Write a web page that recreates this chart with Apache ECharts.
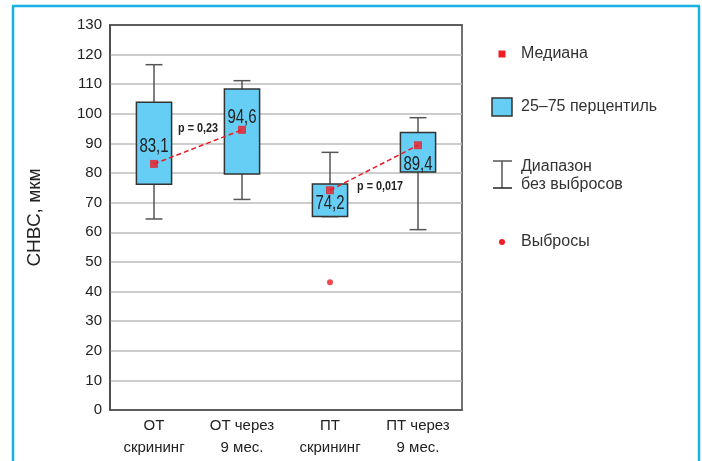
<!DOCTYPE html>
<html>
<head>
<meta charset="utf-8">
<script src="https://cdn.jsdelivr.net/npm/echarts@6/dist/echarts.min.js"></script>
<style>
  html, body { margin: 0; padding: 0; background: #fff; }
  #chart { width: 702px; height: 461px; }
</style>
</head>
<body>
<div id="chart"></div>
<script>
// Groups on the category axis
const categories = ['ОТ\nскрининг', 'ОТ через\n9 мес.', 'ПТ\nскрининг', 'ПТ через\n9 мес.'];
// Box-plot statistics (СНВС, мкм)
const whiskerLow  = [64.5, 71.1, 65.3, 60.9];
const quartile1   = [76.2, 79.7, 65.3, 80.4];
const medians     = [83.1, 94.6, 74.2, 89.4];
const quartile3   = [103.9, 108.4, 76.3, 93.7];
const whiskerHigh = [116.6, 111.2, 87.0, 98.7];
// Outliers as [category index, value]
const outliers = [[2, 43.1]];
// Paired comparisons: [from index, to index] and their p-values
const pairs   = [[0, 1], [2, 3]];
const pLabels = ['p = 0,23', 'p = 0,017'];
// Value axis ticks
const yMin = 0, yMax = 130, yStep = 10;

// vertical pixel offset of each median's value label from its marker
const MEDIAN_LABEL_DY = [-17, -12, 13, 19];

const FONT = "'Liberation Sans', Arial, sans-serif";
const BOX_FILL = '#66cdf4';
const RED = '#ee1c25';
const DARK = '#333333';

const chart = echarts.init(document.getElementById('chart'), null, { renderer: 'canvas' });

const boxData = categories.map((c, i) => [i, whiskerLow[i], quartile1[i], quartile3[i], whiskerHigh[i]]);
const fmt = v => String(v).replace('.', ',');

function pairSeries(k) {
  const [a, b] = pairs[k];
  return categories.map((c, i) => (i === a || i === b) ? medians[i] : '-');
}

const option = {
  animation: false,
  backgroundColor: '#fff',
  grid: { left: 110, right: 240, top: 25, bottom: 51, show: true, borderColor: '#444', borderWidth: 1.5, backgroundColor: 'transparent' },
  xAxis: [{
    type: 'category',
    data: categories,
    boundaryGap: true,
    position: 'bottom',
    axisLine: { lineStyle: { color: '#444', width: 1.5 } },
    axisTick: { alignWithLabel: true, inside: true, length: 5, lineStyle: { color: '#444', width: 1.5 } },
    axisLabel: { interval: 0, fontFamily: FONT, fontSize: 15, color: '#222', lineHeight: 22, margin: 5 },
    splitLine: { show: false }
  }, {
    type: 'category',
    data: categories,
    boundaryGap: true,
    position: 'top',
    axisLine: { lineStyle: { color: '#444', width: 1.5 } },
    axisTick: { alignWithLabel: true, inside: true, length: 5, lineStyle: { color: '#444', width: 1.5 } },
    axisLabel: { show: false },
    splitLine: { show: false }
  }],
  yAxis: {
    type: 'value',
    min: yMin, max: yMax, interval: yStep,
    name: 'СНВС, мкм',
    nameLocation: 'middle',
    nameGap: 66,
    nameTextStyle: { fontFamily: FONT, fontSize: 19, color: '#222' },
    axisLine: { show: true, lineStyle: { color: '#444', width: 1.5 } },
    axisTick: { show: false },
    axisLabel: { fontFamily: FONT, fontSize: 15, color: '#222', margin: 8 },
    splitLine: { lineStyle: { color: '#bdbdbd', width: 1.5 } }
  },
  series: [
    {
      // boxes and whiskers
      type: 'custom',
      data: boxData,
      z: 2,
      renderItem: function (params, api) {
        const i = api.value(0);
        const x = api.coord([i, 0])[0];
        const band = api.size([1, 0])[0];
        const bw = band * 0.4;
        const cw = bw * 0.48;
        const yLow = api.coord([i, api.value(1)])[1];
        const yQ1 = api.coord([i, api.value(2)])[1];
        const yQ3 = api.coord([i, api.value(3)])[1];
        const yHigh = api.coord([i, api.value(4)])[1];
        const wStyle = { stroke: '#555', lineWidth: 1.5 };
        return {
          type: 'group',
          children: [
            { type: 'line', shape: { x1: x, y1: yQ1, x2: x, y2: yLow }, style: wStyle },
            { type: 'line', shape: { x1: x, y1: yQ3, x2: x, y2: yHigh }, style: wStyle },
            { type: 'line', shape: { x1: x - cw / 2, y1: yLow, x2: x + cw / 2, y2: yLow }, style: wStyle },
            { type: 'line', shape: { x1: x - cw / 2, y1: yHigh, x2: x + cw / 2, y2: yHigh }, style: wStyle },
            { type: 'rect', shape: { x: x - bw / 2, y: yQ3, width: bw, height: yQ1 - yQ3 },
              style: { fill: BOX_FILL, stroke: DARK, lineWidth: 1.5 } }
          ]
        };
      }
    },
    {
      type: 'line', data: pairSeries(0), symbol: 'none', z: 3,
      lineStyle: { color: RED, width: 1.5, type: [5, 3] }
    },
    {
      type: 'line', data: pairSeries(1), symbol: 'none', z: 3,
      lineStyle: { color: RED, width: 1.5, type: [5, 3] }
    },
    {
      // p-value annotations beside each dashed connector
      type: 'custom',
      data: pairs.map((p, k) => [k]),
      z: 4,
      renderItem: function (params, api) {
        const k = api.value(0);
        const [a, b] = pairs[k];
        const pa = api.coord([a, medians[a]]);
        const pb = api.coord([b, medians[b]]);
        const mx = (pa[0] + pb[0]) / 2;
        const my = (pa[1] + pb[1]) / 2;
        const above = k === 0;
        return {
          type: 'text',
          x: mx + (above ? 0 : 6),
          y: my + (above ? -18 : 19),
          scaleX: 0.9,
          style: { text: pLabels[k], font: 'bold 12px ' + FONT, fill: '#222', align: 'center', verticalAlign: 'middle' }
        };
      }
    },
    {
      // median value labels in a condensed face
      type: 'custom',
      data: medians.map((v, i) => [i, v]),
      z: 6,
      renderItem: function (params, api) {
        const i = api.value(0);
        const v = api.value(1);
        const p = api.coord([i, v]);
        return {
          type: 'text',
          x: p[0],
          y: p[1] + MEDIAN_LABEL_DY[i],
          scaleX: 0.75,
          style: { text: fmt(v), font: '20px ' + FONT, fill: '#222', align: 'center', verticalAlign: 'middle' }
        };
      }
    },
    {
      type: 'scatter',
      symbol: 'rect', symbolSize: 8, z: 5,
      itemStyle: { color: RED },
      data: medians.map((v, i) => [i, v])
    },
    {
      type: 'scatter',
      symbol: 'circle', symbolSize: 6, z: 5,
      itemStyle: { color: RED },
      data: outliers
    }
  ],
  graphic: [
    // frame
    { type: 'line', shape: { x1: 13, y1: 6, x2: 13, y2: 461 }, style: { stroke: '#19b2e8', lineWidth: 2.5 } },
    { type: 'line', shape: { x1: 12, y1: 6, x2: 700, y2: 6 }, style: { stroke: '#19b2e8', lineWidth: 2.5 } },
    { type: 'line', shape: { x1: 699, y1: 6, x2: 699, y2: 461 }, style: { stroke: '#19b2e8', lineWidth: 2.5 } },
    // key
    { type: 'rect', shape: { x: 498.5, y: 50.5, width: 7, height: 7 }, style: { fill: RED } },
    { type: 'text', x: 521, y: 54, style: { text: 'Медиана', font: '16px ' + FONT, fill: '#333', verticalAlign: 'middle' } },
    { type: 'rect', shape: { x: 492, y: 98, width: 20, height: 18 }, style: { fill: BOX_FILL, stroke: DARK, lineWidth: 1.5 } },
    { type: 'text', x: 521, y: 107, style: { text: '25–75 перцентиль', font: '16px ' + FONT, fill: '#333', verticalAlign: 'middle' } },
    { type: 'line', shape: { x1: 502, y1: 161, x2: 502, y2: 188 }, style: { stroke: '#555', lineWidth: 1.5 } },
    { type: 'line', shape: { x1: 493, y1: 161, x2: 512, y2: 161 }, style: { stroke: '#555', lineWidth: 1.5 } },
    { type: 'line', shape: { x1: 493, y1: 188, x2: 512, y2: 188 }, style: { stroke: '#222', lineWidth: 1.5 } },
    { type: 'text', x: 521, y: 176, style: { text: 'Диапазон\nбез выбросов', font: '16px ' + FONT, fill: '#333', verticalAlign: 'middle', lineHeight: 18 } },
    { type: 'circle', shape: { cx: 502, cy: 242, r: 3 }, style: { fill: RED } },
    { type: 'text', x: 521, y: 242, style: { text: 'Выбросы', font: '16px ' + FONT, fill: '#333', verticalAlign: 'middle' } }
  ]
};

chart.setOption(option);
</script>
</body>
</html>
